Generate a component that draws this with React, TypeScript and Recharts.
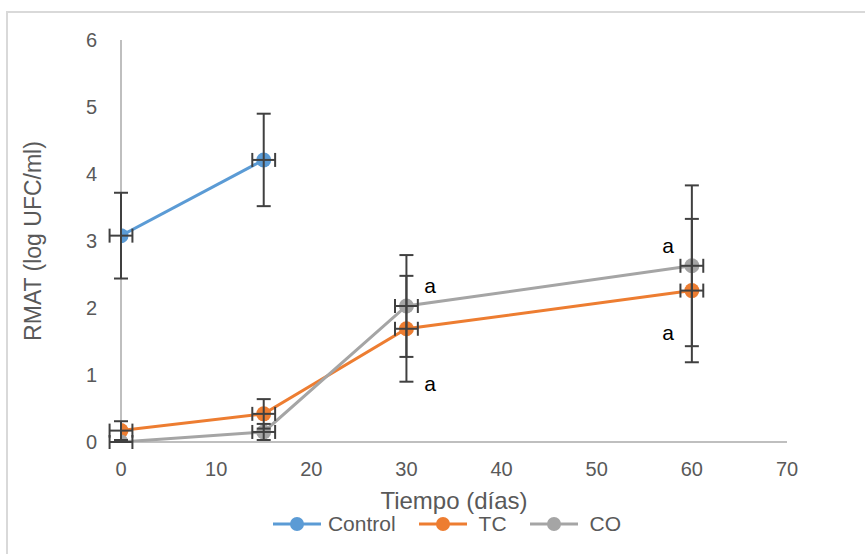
import { ScatterChart, Scatter, XAxis, YAxis, ErrorBar } from "recharts";

// days of sampling
const controlDays = [0, 15];
const treatmentDays = [0, 15, 30, 60];

// RMAT means (log UFC/ml) and their error
const controlMeans = [3.08, 4.21];
const controlErr = [0.64, 0.69];
const tcMeans = [0.17, 0.42, 1.69, 2.26];
const tcErr = [0.14, 0.22, 0.79, 1.07];
const coMeans = [0, 0.15, 2.03, 2.63];
const coErr = [0, 0.12, 0.76, 1.2];
const dayErr = 1.2;

// significance letters (where they sit, in data units)
const letterDays = [32.5, 32.5, 57.5, 57.5];
const letterLevels = [2.34, 0.88, 2.94, 1.64];
const letterTexts = ["a", "a", "a", "a"];

const xTicks = [0, 10, 20, 30, 40, 50, 60, 70];
const yTicks = [0, 1, 2, 3, 4, 5, 6];

const series = [
  { name: "Control", color: "#5b9bd5", days: controlDays, means: controlMeans, errs: controlErr },
  { name: "TC", color: "#ed7d31", days: treatmentDays, means: tcMeans, errs: tcErr },
  { name: "CO", color: "#a5a5a5", days: treatmentDays, means: coMeans, errs: coErr },
];

const build = (days: number[], means: number[], errs: number[]) =>
  days.map((d, i) => ({ x: d, y: means[i], ey: errs[i], ex: dayErr }));

const letters = letterDays.map((d, i) => ({ x: d, y: letterLevels[i], t: letterTexts[i] }));

const font = "'Liberation Sans', Arial, sans-serif";
const textColor = "#595959";
const barColor = "#404040";

function LegendRow() {
  return (
    <div
      style={{
        position: "absolute",
        left: 0,
        top: 512,
        width: 865,
        display: "flex",
        justifyContent: "center",
        alignItems: "center",
        fontFamily: font,
        fontSize: 21,
        color: textColor,
        paddingLeft: 28,
        boxSizing: "border-box",
      }}
    >
      {series.map((s, i) => (
        <div key={s.name} style={{ display: "flex", alignItems: "center", marginRight: i < series.length - 1 ? 22 : 0 }}>
          <svg width={50} height={20}>
            <line x1={1} y1={10} x2={49} y2={10} stroke={s.color} strokeWidth={3} />
            <circle cx={25} cy={10} r={7} fill={s.color} />
          </svg>
          <span style={{ marginLeft: i === 0 ? 6 : 11 }}>{s.name}</span>
        </div>
      ))}
    </div>
  );
}

export default function App() {
  return (
    <div style={{ position: "absolute", left: 0, top: 0, width: 865, height: 554, overflow: "hidden", background: "#fff" }}>
      <div style={{ position: "absolute", left: 6, top: 11, width: 900, height: 600, border: "2px solid #d9d9d9" }} />
      <ScatterChart width={865} height={554} margin={{ top: 40, right: 78, left: 0, bottom: 42 }}>
        <XAxis
          type="number"
          dataKey="x"
          domain={[0, 70]}
          allowDataOverflow
          ticks={xTicks}
          tickLine={false}
          axisLine={{ stroke: "#bfbfbf", strokeWidth: 2 }}
          tick={{ fill: textColor, fontSize: 20, fontFamily: font }}
          tickMargin={14}
          height={70}
          label={{ value: "Tiempo (días)", position: "insideBottom", offset: 3, fill: textColor, fontSize: 24, fontFamily: font }}
        />
        <YAxis
          type="number"
          dataKey="y"
          domain={[0, 6]}
          allowDataOverflow
          ticks={yTicks}
          tickLine={false}
          axisLine={{ stroke: "#bfbfbf", strokeWidth: 2 }}
          tick={{ fill: textColor, fontSize: 20, fontFamily: font }}
          tickMargin={18}
          width={121}
          label={(props: any) => {
            const vb = props.viewBox;
            const cy = vb.y + vb.height / 2;
            return (
              <text x={33} y={cy} transform={`rotate(-90 33 ${cy})`} textAnchor="middle" dominantBaseline="central" fill={textColor} fontSize={23} fontFamily={font}>
                RMAT (log UFC/ml)
              </text>
            );
          }}
        />
        {series.map((s) => (
          <Scatter
            key={s.name}
            name={s.name}
            data={build(s.days, s.means, s.errs)}
            fill={s.color}
            line={{ stroke: s.color, strokeWidth: 3 }}
            lineType="joint"
            isAnimationActive={false}
            zIndex={700}
            shape={(p: any) => <circle cx={p.cx} cy={p.cy} r={7.5} fill={s.color} />}
          >
            <ErrorBar dataKey="ey" direction="y" width={7} stroke={barColor} strokeWidth={2} zIndex={800} />
            <ErrorBar dataKey="ex" direction="x" width={7} stroke={barColor} strokeWidth={2} zIndex={800} />
          </Scatter>
        ))}
        <Scatter
          name="letters"
          data={letters}
          legendType="none"
          isAnimationActive={false}
          shape={(p: any) => (
            <text x={p.cx} y={p.cy} textAnchor="middle" dominantBaseline="central" fill="#000" fontSize={21} fontFamily={font}>
              {p.payload.t}
            </text>
          )}
        />
      </ScatterChart>
      <LegendRow />
    </div>
  );
}
